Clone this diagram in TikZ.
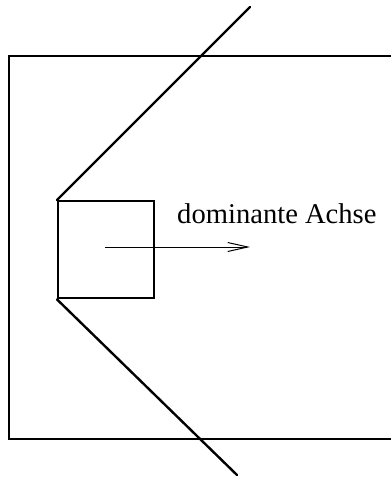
\documentclass[tikz,border=0pt]{standalone}
\usepackage{fontspec}
\setmainfont{Liberation Serif}
\usetikzlibrary{arrows.meta}
\begin{document}
\begin{tikzpicture}[x=1pt,y=-1pt,
  frame/.style={draw, line width=1.3pt},
  thick line/.style={line width=2.4pt},
  axis/.style={line width=1pt, -{Straight Barb[length=20pt,width=9pt,line width=1pt]}},
  label text/.style={font=\fontsize{28.6}{32}\selectfont, inner sep=0pt, anchor=base west}]
  \useasboundingbox (0,0) rectangle (391,477);
  \begin{scope}
    \clip (0,0) rectangle (391,477);
    % outer frame, running past the right edge
    \draw[frame] (410,56) -- (9,56) -- (9,439) -- (410,439);
    % the box and its two boundary rays
    \node[draw, thick line, minimum width=96pt, minimum height=97pt, inner sep=0pt, anchor=north west] (box) at (57,200) {};
    \coordinate (top) at (250,7);
    \coordinate (bottom) at (237,475);
    \coordinate (c) at (105,247);
    \coordinate (tip) at (250,247);
    \draw[thick line, line cap=round] (box.north west) -- (top);
    \draw[thick line, line cap=round] (box.south west) -- (bottom);
    \draw[axis] (c) -- (tip);
    \node[label text] (lbl) at (177,223) {dominante Achse};
  \end{scope}
\end{tikzpicture}
\end{document}
